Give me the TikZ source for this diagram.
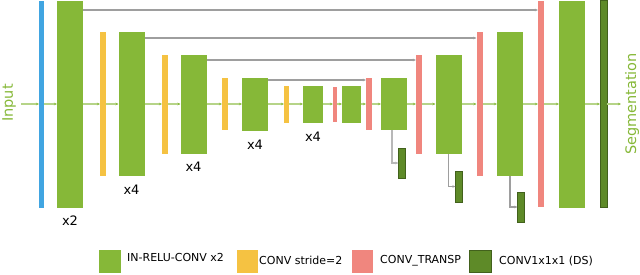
\documentclass[tikz,border=0pt]{standalone}
\usepackage{fontspec}
\setmainfont{DejaVu Sans}
\usetikzlibrary{arrows.meta,positioning}
\definecolor{convgreen}{HTML}{86B838}
\definecolor{dsgreen}{HTML}{5E8A28}
\definecolor{strideyellow}{HTML}{F5C242}
\definecolor{transpred}{HTML}{F0867E}
\definecolor{inblue}{HTML}{41A5E1}
\tikzset{
	blk/.style={rectangle, inner sep=0pt, outer sep=0pt},
	convblk/.style={blk, fill=convgreen, minimum width=26pt},
	stride/.style={blk, fill=strideyellow, minimum width=6pt},
	transp/.style={blk, fill=transpred, minimum width=6pt},
	dsblk/.style={blk, fill=dsgreen, draw=dsgreen!70!black, line width=0.6pt, minimum width=7pt},
	flowarr/.style={-{Stealth[length=3pt,width=2.5pt,color=convgreen]}, draw=convgreen!60, line width=1.2pt},
	skiparr/.style={-{Stealth[length=3pt,width=2.5pt]}, draw=black!38, line width=1.1pt},
	repeatlbl/.style={font=\fontsize{13}{15}\selectfont, inner sep=1pt},
	sidelbl/.style={font=\fontsize{14.5}{17}\selectfont, text=convgreen, rotate=90},
	legendtxt/.style={font=\fontsize{11}{13}\selectfont, anchor=west, inner sep=0pt}
}
\begin{document}
\begin{tikzpicture}[x=1pt, y=-1pt]
	\useasboundingbox (0,0) rectangle (640,274);
	% encoder
	\node[blk, fill=inblue, minimum width=5pt, minimum height=207pt] (inp) at (41.5,104) {};
	\node[convblk, minimum height=207pt] (c1) at (70,104) {};
	\node[stride, minimum height=144pt] (d1) at (103,104) {};
	\node[convblk, minimum height=144pt] (c2) at (131.5,104) {};
	\node[stride, minimum height=99pt] (d2) at (165,104) {};
	\node[convblk, minimum height=99pt] (c3) at (193.5,104) {};
	\node[stride, minimum height=52pt] (d3) at (225,104) {};
	\node[convblk, minimum height=53pt] (c4) at (255,104) {};
	\node[stride, minimum width=5pt, minimum height=37pt] (d4) at (286.5,104) {};
	\node[convblk, minimum width=20pt, minimum height=37pt] (c5) at (313,104) {};
	% decoder
	\node[transp, minimum width=4pt, minimum height=35pt] (u0) at (335,104) {};
	\node[convblk, minimum width=19pt, minimum height=37pt] (c6) at (351.5,104) {};
	\node[transp, minimum height=52pt] (u1) at (369,104) {};
	\node[convblk, minimum height=52pt] (c7) at (394,104) {};
	\node[transp, minimum height=99pt] (u2) at (419,104) {};
	\node[convblk, minimum height=99pt] (c8) at (448.5,104) {};
	\node[transp, minimum height=144pt] (u3) at (479.5,104) {};
	\node[convblk, minimum height=144pt] (c9) at (510,104) {};
	\node[transp, minimum height=206pt] (u4) at (541,104) {};
	\node[convblk, minimum height=207pt] (c10) at (572,104) {};
	\node[dsblk, minimum height=207pt] (ds4) at (603.5,104) {};
	\node[dsblk, minimum height=30pt] (ds1) at (402,163) {};
	\node[dsblk, minimum height=31pt] (ds2) at (459,186.5) {};
	\node[dsblk, minimum height=30pt] (ds3) at (521,207) {};
	% repeats
	\node[repeatlbl, below=7pt of c1] (rep1) {x2};
	\node[repeatlbl, below=8pt of c2] (rep2) {x4};
	\node[repeatlbl, below=7pt of c3] (rep3) {x4};
	\node[repeatlbl, below=8pt of c4] (rep4) {x4};
	\node[repeatlbl, below=8pt of c5] (rep5) {x4};
	% side labels
	\node[sidelbl] (inlbl) at (9,103) {Input};
	\node[sidelbl] (seglbl) at (632,104) {Segmentation};
	\coordinate (inend) at (21,104);
	\coordinate (outend) at (621,104);
	% main path
	\draw[flowarr] (inend) -- (inp);
	\draw[flowarr] (inp) -- (c1);
	\draw[flowarr] (c1) -- (d1);
	\draw[flowarr] (d1) -- (c2);
	\draw[flowarr] (c2) -- (d2);
	\draw[flowarr] (d2) -- (c3);
	\draw[flowarr] (c3) -- (d3);
	\draw[flowarr] (d3) -- (c4);
	\draw[flowarr] (c4) -- (d4);
	\draw[flowarr] (d4) -- (c5);
	\draw[flowarr] (c5) -- (u0);
	\draw[flowarr] (u0) -- (c6);
	\draw[flowarr] (c6) -- (u1);
	\draw[flowarr] (u1) -- (c7);
	\draw[flowarr] (c7) -- (u2);
	\draw[flowarr] (u2) -- (c8);
	\draw[flowarr] (c8) -- (u3);
	\draw[flowarr] (u3) -- (c9);
	\draw[flowarr] (c9) -- (u4);
	\draw[flowarr] (u4) -- (c10);
	\draw[flowarr] (c10) -- (ds4);
	\draw[flowarr] (ds4) -- (outend);
	% skips
	\draw[skiparr] ([yshift=-9.5pt]c1.north east) -- ([yshift=-9.5pt]c1.north east -| u4.west);
	\draw[skiparr] ([yshift=-6pt]c2.north east) -- ([yshift=-6pt]c2.north east -| u3.west);
	\draw[skiparr] ([yshift=-5.5pt]c3.north east) -- ([yshift=-5.5pt]c3.north east -| u2.west);
	\draw[skiparr] ([yshift=-2.5pt]c4.north east) -- ([yshift=-2.5pt]c4.north east -| u1.west);
	% deep supervision
	\draw[skiparr, draw=black!28] ([xshift=-2pt]c7.south) |- (ds1.west);
	\draw[skiparr] (c8.south) |- (ds2.west);
	\draw[skiparr] (c9.south) |- (ds3.west);
	% legend
	\node[blk, fill=convgreen, minimum width=22pt, minimum height=23pt, anchor=north west] (lgconv) at (99,250) {};
	\node[legendtxt] (lgconvtxt) at (127,257) {IN-RELU-CONV x2};
	\node[blk, fill=strideyellow, minimum width=21pt, minimum height=23pt, anchor=north west] (lgstride) at (237,250) {};
	\node[legendtxt] (lgstridetxt) at (259,260) {CONV stride=2};
	\node[blk, fill=transpred, minimum width=21pt, minimum height=23pt, anchor=north west] (lgtransp) at (352,250) {};
	\node[legendtxt] (lgtransptxt) at (380,261) {CONV\_TRANSP};
	\node[dsblk, minimum width=22pt, minimum height=22pt, anchor=north west] (lgds) at (469.5,250.5) {};
	\node[legendtxt] (lgdstxt) at (499,261) {CONV1x1x1 (DS)};
\end{tikzpicture}
\end{document}
